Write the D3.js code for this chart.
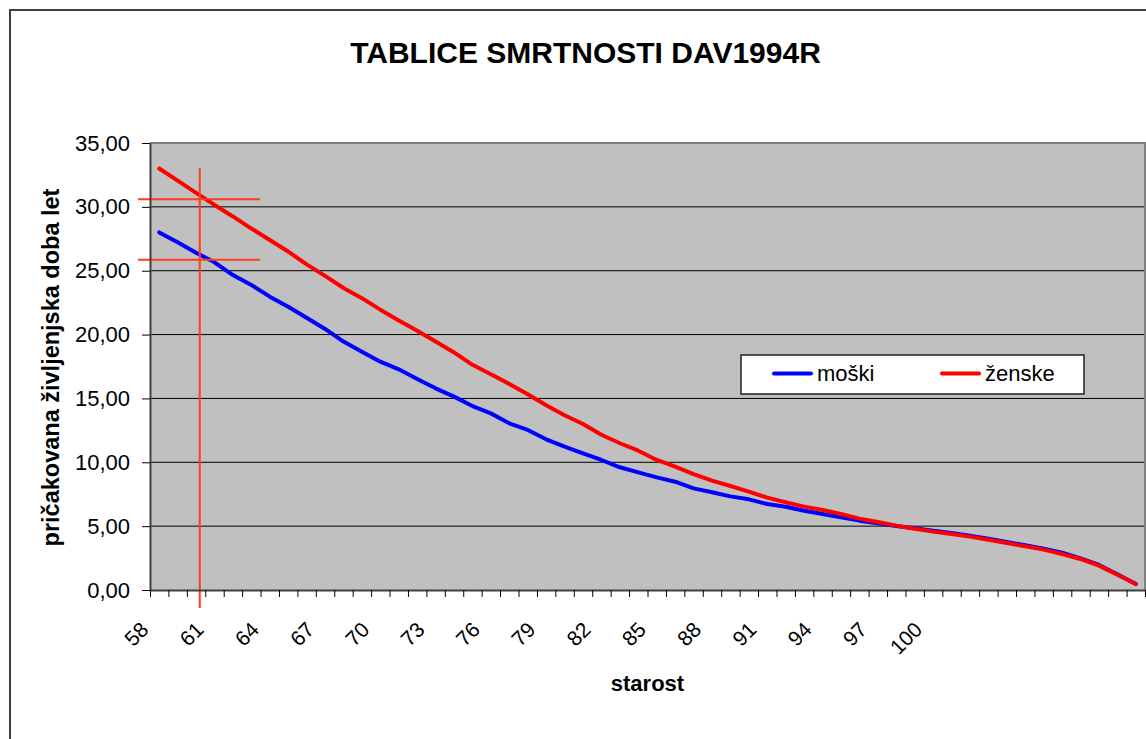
<!DOCTYPE html>
<html>
<head>
<meta charset="utf-8">
<script src="https://cdn.jsdelivr.net/npm/d3@7"></script>
<style>
  body { margin: 0; background: #fff; }
  text { font-family: "Liberation Sans", Arial, sans-serif; fill: #000; }
</style>
</head>
<body>
<div id="chart"></div>
<script>
// DATA
const ages = [58, 59, 60, 61, 62, 63, 64, 65, 66, 67, 68, 69, 70, 71, 72, 73, 74, 75, 76, 77,
  78, 79, 80, 81, 82, 83, 84, 85, 86, 87, 88, 89, 90, 91, 92, 93, 94, 95, 96, 97,
  98, 99, 100, 101, 102, 103, 104, 105, 106, 107, 108, 109, 110, 111];

const labelAges = [58, 61, 64, 67, 70, 73, 76, 79, 82, 85, 88, 91, 94, 97, 100];

const moski = [28.0, 27.22, 26.41, 25.66, 24.66, 23.88, 22.97, 22.18, 21.32, 20.44,
  19.45, 18.66, 17.88, 17.28, 16.52, 15.79, 15.14, 14.4, 13.83, 13.05,
  12.53, 11.8, 11.22, 10.7, 10.18, 9.61, 9.21, 8.82, 8.48, 7.96,
  7.65, 7.33, 7.1, 6.73, 6.52, 6.2, 5.95, 5.69, 5.43, 5.22,
  5.01, 4.83, 4.65, 4.46, 4.25, 4.02, 3.76, 3.5, 3.23, 2.92,
  2.48, 1.96, 1.23, 0.47];

const zenske = [33.0, 32.05, 31.1, 30.15, 29.25, 28.3, 27.4, 26.5, 25.5, 24.6,
  23.65, 22.85, 21.95, 21.1, 20.3, 19.45, 18.6, 17.63, 16.9, 16.13,
  15.32, 14.46, 13.68, 13.0, 12.16, 11.49, 10.91, 10.18, 9.66, 9.08,
  8.56, 8.14, 7.7, 7.23, 6.87, 6.53, 6.26, 5.95, 5.59, 5.32,
  5.04, 4.8, 4.57, 4.38, 4.18, 3.94, 3.68, 3.42, 3.16, 2.82,
  2.43, 1.91, 1.2, 0.47];

const yTicks = [0, 5, 10, 15, 20, 25, 30, 35];

// hand drawn guide lines (age, life expectancy)
const guideAge = 60.2;
const guideValues = [30.6, 25.85];
const guideAgeSpan = [56.85, 63.47];
const guideValueSpan = [-1.4, 33.05];

const series = [
  { name: "moški", values: moski, color: "#0000ff" },
  { name: "ženske", values: zenske, color: "#ff0000" }
];

// LAYOUT
const width = 1146, height = 739;
const plot = { left: 150, top: 143, right: 1145, bottom: 590 };

const svg = d3.select("#chart").append("svg")
  .attr("width", width)
  .attr("height", height);

// outer chart frame
svg.append("rect")
  .attr("x", 10).attr("y", 10)
  .attr("width", 1150).attr("height", 750)
  .attr("fill", "#fff")
  .attr("stroke", "#404040")
  .attr("stroke-width", 2);

svg.append("text")
  .attr("x", 585.5).attr("y", 63)
  .attr("text-anchor", "middle")
  .attr("font-size", 30)
  .attr("font-weight", "bold")
  .text("TABLICE SMRTNOSTI DAV1994R");

// scales
const x = d3.scaleLinear()
  .domain([ages[0] - 0.5, ages[ages.length - 1] + 0.5])
  .range([plot.left, plot.right]);

const y = d3.scaleLinear()
  .domain([0, 35])
  .range([plot.bottom, plot.top]);

// plot area
svg.append("rect")
  .attr("x", plot.left).attr("y", plot.top)
  .attr("width", plot.right - plot.left)
  .attr("height", plot.bottom - plot.top)
  .attr("fill", "#c0c0c0");

svg.append("g")
  .selectAll("line")
  .data(yTicks.filter(v => v > 0 && v < 35))
  .enter().append("line")
  .attr("x1", plot.left).attr("x2", plot.right)
  .attr("y1", d => y(d)).attr("y2", d => y(d))
  .attr("stroke", "#000")
  .attr("stroke-width", 1);

// top and right border
svg.append("path")
  .attr("d", `M${plot.left},${plot.top}H${plot.right}V${plot.bottom}`)
  .attr("fill", "none")
  .attr("stroke", "#808080")
  .attr("stroke-width", 2);

// lines
const line = d3.line()
  .x((d, i) => x(ages[i]))
  .y(d => y(d));

series.forEach(s => {
  svg.append("path")
    .datum(s.values)
    .attr("fill", "none")
    .attr("stroke", s.color)
    .attr("stroke-width", 4)
    .attr("stroke-linejoin", "round")
    .attr("stroke-linecap", "round")
    .attr("d", line);
});

// guide lines
const guideColor = "#ff3d17";
svg.append("line")
  .attr("x1", x(guideAge)).attr("x2", x(guideAge))
  .attr("y1", y(guideValueSpan[1])).attr("y2", y(guideValueSpan[0]))
  .attr("stroke", guideColor).attr("stroke-width", 2);

svg.append("g")
  .selectAll("line")
  .data(guideValues)
  .enter().append("line")
  .attr("x1", x(guideAgeSpan[0])).attr("x2", x(guideAgeSpan[1]))
  .attr("y1", d => y(d)).attr("y2", d => y(d))
  .attr("stroke", guideColor).attr("stroke-width", 2);

// y axis
const yAxis = svg.append("g")
  .attr("transform", `translate(${plot.left},0)`)
  .call(d3.axisLeft(y)
    .tickValues(yTicks)
    .tickSize(8)
    .tickSizeOuter(0)
    .tickPadding(12)
    .tickFormat(d => d3.format(".2f")(d).replace(".", ",")));
yAxis.select(".domain").attr("stroke", "#404040").attr("stroke-width", 2);
yAxis.selectAll(".tick line").attr("stroke", "#000");
yAxis.selectAll("text").attr("font-size", 22).attr("font-family", null);

// x axis tick marks between categories
const edges = ages.map(a => a - 0.5).concat([ages[ages.length - 1] + 0.5]);
const xTicks = svg.append("g")
  .attr("transform", `translate(0,${plot.bottom})`)
  .call(d3.axisBottom(x)
    .tickValues(edges)
    .tickSize(7)
    .tickSizeOuter(0)
    .tickFormat(""));
xTicks.select(".domain").attr("stroke", "#404040").attr("stroke-width", 2);
xTicks.selectAll(".tick line").attr("stroke", "#000");

// x axis labels
const xLabels = svg.append("g")
  .attr("transform", `translate(0,${plot.bottom})`)
  .call(d3.axisBottom(x)
    .tickValues(labelAges)
    .tickSize(0)
    .tickFormat(d3.format("d")));
xLabels.select(".domain").remove();
xLabels.selectAll("text")
  .attr("font-size", 21)
  .attr("font-family", null)
  .attr("x", 0).attr("y", 0).attr("dy", 0)
  .attr("text-anchor", "end")
  .attr("transform", "translate(-10,41) rotate(-45)");

// axis titles
svg.append("text")
  .attr("transform", "translate(59,367.5) rotate(-90)")
  .attr("text-anchor", "middle")
  .attr("font-size", 23.5)
  .attr("font-weight", "bold")
  .text("pričakovana življenjska doba let");

svg.append("text")
  .attr("x", 647.5).attr("y", 691)
  .attr("text-anchor", "middle")
  .attr("font-size", 22)
  .attr("font-weight", "bold")
  .text("starost");

// legend
const legend = svg.append("g").attr("transform", "translate(741,355)");
legend.append("rect")
  .attr("width", 343).attr("height", 39)
  .attr("fill", "#fff")
  .attr("stroke", "#202020")
  .attr("stroke-width", 1.5);

const legendItem = legend.selectAll(".legend")
  .data(series)
  .enter().append("g")
  .attr("class", "legend")
  .attr("transform", (d, i) => `translate(${33 + i * 168},0)`);

legendItem.append("line")
  .attr("x1", 0).attr("x2", 37)
  .attr("y1", 18.5).attr("y2", 18.5)
  .attr("stroke", d => d.color)
  .attr("stroke-width", 4)
  .attr("stroke-linecap", "round");

legendItem.append("text")
  .attr("x", 43).attr("y", 26)
  .attr("font-size", 22)
  .text(d => d.name);
</script>
</body>
</html>
